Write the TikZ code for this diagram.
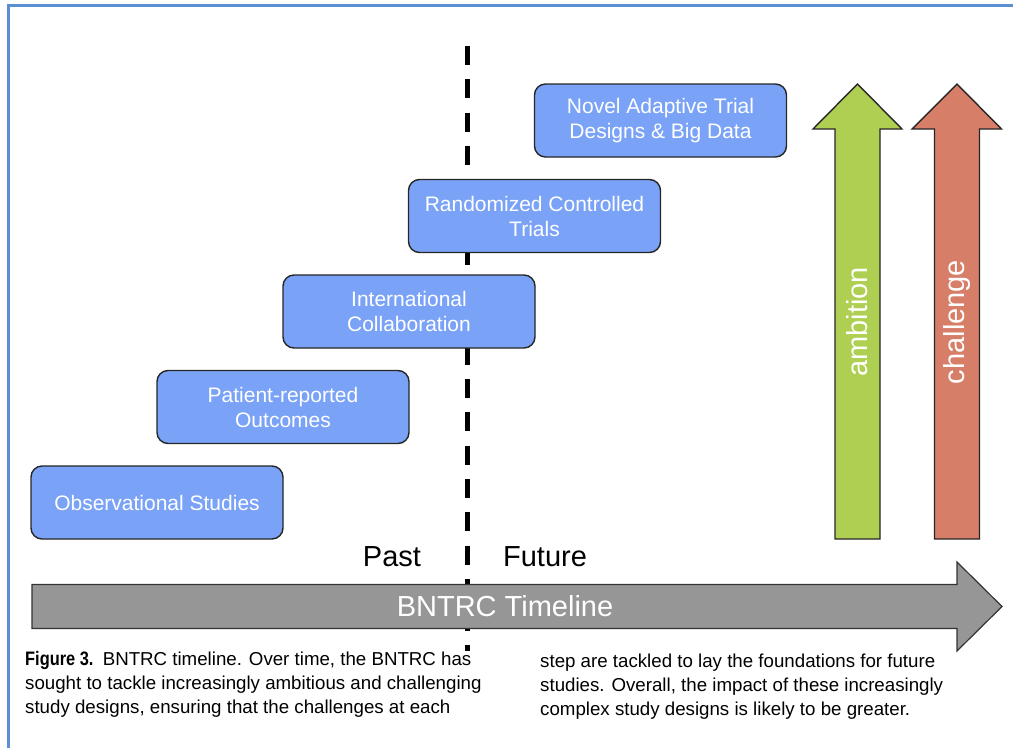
\documentclass[tikz,border=0pt]{standalone}
\usepackage{fontspec}
\setmainfont{Liberation Sans}
\newfontfamily\condfont[FakeStretch=0.84]{Liberation Sans}
\definecolor{framecol}{HTML}{5B8FD3}
\definecolor{stagefill}{HTML}{7AA2F6}
\definecolor{ambitionfill}{HTML}{AECF52}
\definecolor{challengefill}{HTML}{D77E69}
\definecolor{timefill}{HTML}{969696}
\tikzset{
  stagebox/.style={draw=black!85, line width=1.4pt, fill=stagefill, rounded corners=11pt,
    minimum width=252pt, minimum height=73pt, align=center, text=white,
    font=\fontsize{21}{25}\selectfont, inner sep=0pt},
  uparrow/.style={draw=black!85, line width=1.4pt, line join=miter},
  bigtext/.style={font=\fontsize{29}{34}\selectfont, inner sep=0pt},
  captext/.style={font=\fontsize{18.7}{22}\selectfont, anchor=base west, inner sep=0pt},
  dividerline/.style={line width=5pt, dash pattern=on 19pt off 14.3pt}
}
\begin{document}
\begin{tikzpicture}[x=1pt,y=-1pt]
\useasboundingbox (0,0) rectangle (1013,748);

% frame along the top and left edges
\draw[framecol, line width=2.6pt] (1013,5.5) -- (8.5,5.5) -- (8.5,748);

% past / future divider
\coordinate (divtop) at (467,46);
\coordinate (divbot) at (467,651);
\draw[dividerline] (divtop) -- (divbot);

% study design stages
\node[stagebox] (obs)   at (157,502.5) {Observational Studies};
\node[stagebox] (pro)   at (283,407)   {Patient-reported\\Outcomes};
\node[stagebox] (intl)  at (409,311.5) {International\\Collaboration};
\node[stagebox] (rct)   at (534.5,216) {Randomized Controlled\\Trials};
\node[stagebox] (novel) at (660.5,120.5) {Novel Adaptive Trial\\Designs \& Big Data};

% timeline arrow
\draw[draw=black!80, line width=1.2pt, fill=timefill, line join=miter]
  (32,584.5) -- (957,584.5) -- (957,562) -- (1002,606.5) -- (957,651)
  -- (957,628.5) -- (32,628.5) -- cycle;
\node[bigtext, text=white] (tl) at (505,606.5) {BNTRC Timeline};

\node[bigtext] (past)   at (392,557) {Past};
\node[bigtext] (future) at (545,557) {Future};

% ambition and challenge arrows
\draw[uparrow, fill=ambitionfill]
  (835,539) -- (835,129) -- (813,129) -- (857.5,84) -- (902,129)
  -- (880,129) -- (880,539) -- cycle;
\node[bigtext, text=white, rotate=90] (amb) at (857.5,322) {ambition};

\draw[uparrow, fill=challengefill]
  (934.5,539) -- (934.5,129) -- (912,129) -- (957,84) -- (1001.5,129)
  -- (979.5,129) -- (979.5,539) -- cycle;
\node[bigtext, text=white, rotate=90] (chal) at (957,322) {challenge};

% caption
\node[captext] (c1) at (25,665) {{\condfont\fontsize{19.5}{22}\selectfont\bfseries Figure 3.}\enspace BNTRC timeline. Over time, the BNTRC has};
\node[captext] (c2) at (25,689) {sought to tackle increasingly ambitious and challenging};
\node[captext] (c3) at (25,713) {study designs, ensuring that the challenges at each};
\node[captext] (c4) at (540,667) {step are tackled to lay the foundations for future};
\node[captext] (c5) at (540,691) {studies. Overall, the impact of these increasingly};
\node[captext] (c6) at (540,715) {complex study designs is likely to be greater.};
\end{tikzpicture}
\end{document}
